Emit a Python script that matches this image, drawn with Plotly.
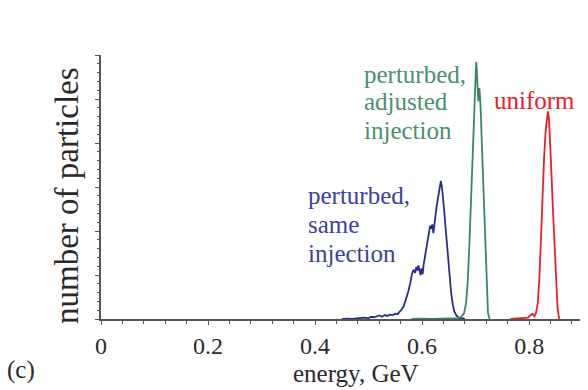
import plotly.graph_objects as go

# blue: perturbed, same injection
blue_x = [0.450,0.460,0.470,0.480,0.490,0.500,0.505,0.510,0.515,0.520,0.525,0.530,0.535,0.540,0.545,
          0.550,0.554,0.558,0.562,0.566,0.570,0.574,0.578,0.581,0.584,0.587,0.589,0.591,0.593,0.595,
          0.597,0.599,0.601,0.603,0.605,0.607,0.609,0.611,0.613,0.615,0.617,0.619,0.621,0.623,0.625,
          0.627,0.629,0.631,0.633,0.635,0.637,0.639,0.641,0.643,0.645,0.648,0.651,0.654,0.657,0.660,
          0.664,0.668,0.672,0.676,0.680]
blue_y = [0.00,0.01,0.00,0.02,0.03,0.02,0.05,0.04,0.06,0.08,0.05,0.09,0.07,0.10,0.09,
          0.12,0.11,0.16,0.22,0.30,0.45,0.62,0.82,1.02,1.12,1.05,1.18,1.10,1.22,1.08,
          1.00,1.15,1.02,1.25,1.40,1.55,1.72,1.88,2.00,2.12,2.05,2.15,1.95,2.10,2.35,
          2.55,2.70,2.85,3.00,3.14,3.00,2.80,2.50,2.20,1.90,1.45,1.00,0.62,0.35,0.18,
          0.08,0.03,0.01,0.02,0.00]

# green: perturbed, adjusted injection
green_x = [0.580,0.600,0.620,0.640,0.655,0.665,0.672,0.678,0.682,0.685,0.688,0.691,0.693,0.695,0.697,
           0.699,0.701,0.702,0.703,0.704,0.705,0.706,0.707,0.708,0.709,0.710,0.711,0.713,0.715,0.717,
           0.719,0.721,0.723,0.726]
green_y = [0.00,0.01,0.00,0.01,0.01,0.02,0.04,0.12,0.35,0.80,1.60,2.60,3.40,4.20,4.90,
           5.50,5.84,5.70,5.40,5.05,4.95,5.15,5.25,5.10,4.90,4.60,4.20,3.50,2.80,2.10,
           1.40,0.70,0.15,0.00]

# red: uniform
red_x = [0.765,0.775,0.785,0.792,0.798,0.802,0.806,0.810,0.813,0.816,0.819,0.822,0.825,0.828,0.831,
         0.833,0.835,0.837,0.839,0.841,0.844,0.847,0.850,0.853,0.856]
red_y = [0.00,0.01,0.02,0.04,0.03,0.08,0.12,0.06,0.15,0.35,0.90,1.80,2.80,3.70,4.30,
         4.60,4.72,4.55,4.10,3.50,2.60,1.70,0.90,0.25,0.00]

x_ticks = [0, 0.2, 0.4, 0.6, 0.8]
x_tick_labels = ["0", "0.2", "0.4", "0.6", "0.8"]

BLUE = "#2a2c8e"
BLUE_T = "#3d3f9b"
GREEN = "#3a8766"
GREEN_T = "#4a8f70"
RED = "#e8202a"
TEXT = "#2a2a2a"
FONT = "'Liberation Serif', 'Times New Roman', Times, serif"

fig = go.Figure()
fig.add_trace(go.Scatter(x=blue_x, y=blue_y, mode="lines", line=dict(color=BLUE, width=1.8), showlegend=False))
fig.add_trace(go.Scatter(x=green_x, y=green_y, mode="lines", line=dict(color=GREEN, width=1.8), showlegend=False))
fig.add_trace(go.Scatter(x=red_x, y=red_y, mode="lines", line=dict(color=RED, width=1.8), showlegend=False))

W, H = 588, 390
L, R, T, B = 101, 8, 55, 71
pw, ph = W - L - R, H - T - B

def px(xp):
    return (xp - L) / pw

def py(yp):
    return (H - B - yp) / ph

anns = []
def txt(t, xp, yp, color, size=25, xa="left", angle=0):
    anns.append(dict(text=t, x=px(xp), y=py(yp), xref="paper", yref="paper",
                     xanchor=xa, yanchor="middle", showarrow=False, textangle=angle,
                     font=dict(family=FONT, size=size, color=color)))

txt("perturbed,", 306, 195, BLUE_T)
txt("same", 306, 224, BLUE_T)
txt("injection", 306, 253, BLUE_T)
txt("perturbed,", 362, 74, GREEN_T)
txt("adjusted", 362, 102, GREEN_T)
txt("injection", 362, 130, GREEN_T)
txt("uniform", 492, 101, RED)
txt("number of particles", 67, 196, TEXT, size=33, xa="center", angle=-90)
txt("energy, GeV", 356, 373, TEXT, size=25, xa="center")
txt("(c)", 21, 370, TEXT, size=25, xa="center")

axis_color = "#555555"
fig.update_layout(
    width=W, height=H,
    margin=dict(l=L, r=R, t=T, b=B),
    paper_bgcolor="white", plot_bgcolor="white",
    font=dict(family=FONT),
    annotations=anns,
    xaxis=dict(range=[0, 0.895], showgrid=False, zeroline=False, showline=True,
               linecolor=axis_color, linewidth=1.5, ticks="outside", ticklen=4,
               tickcolor=axis_color, tickvals=x_ticks, ticktext=x_tick_labels,
               tickfont=dict(family=FONT, size=24, color=TEXT),
               minor=dict(dtick=0.04, tick0=0, ticks="outside", ticklen=3, tickcolor=axis_color)),
    yaxis=dict(range=[0, 6], showgrid=False, zeroline=False, showline=True,
               linecolor=axis_color, linewidth=1.5, ticks="outside", ticklen=4,
               tickcolor=axis_color, dtick=1, tick0=0, showticklabels=False,
               minor=dict(dtick=0.2, tick0=0, ticks="outside", ticklen=2, tickcolor=axis_color)),
)

fig.write_html("out.html")
